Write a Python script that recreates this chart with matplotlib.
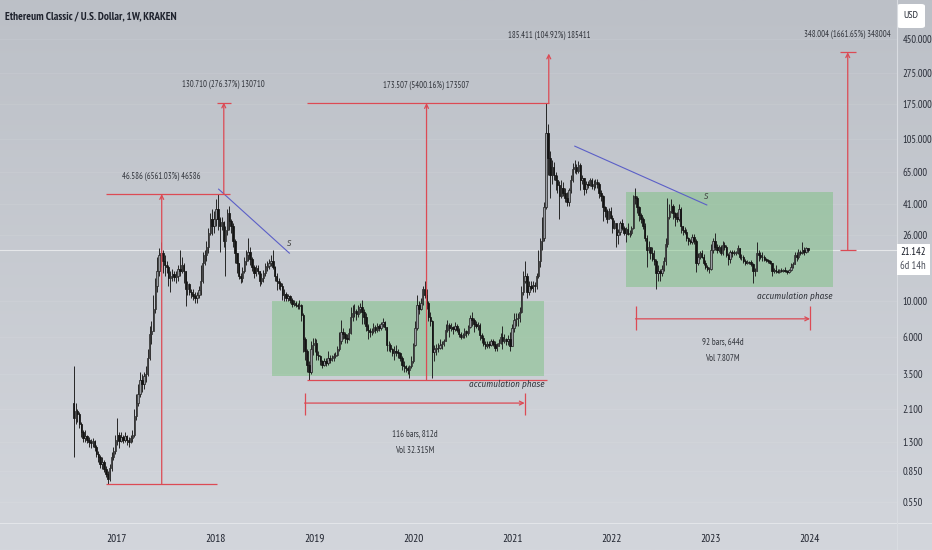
import numpy as np
import pandas as pd
import matplotlib
matplotlib.use('Agg')
import matplotlib.pyplot as plt
import matplotlib.dates as mdates
from matplotlib.colors import LinearSegmentedColormap
from matplotlib.patches import Rectangle, FancyBboxPatch
from matplotlib.lines import Line2D

plt.rcParams['font.family'] = ['PT Sans Narrow', 'DejaVu Sans']

# weekly candles, first week 2016-07-25, one row per year
close = [
    1.85, 2.05, 1.95, 1.70, 1.50, 1.38, 1.42, 1.35, 1.30, 1.28, 1.32, 1.22, 1.10, 1.05, 0.95, 0.98, 0.88, 0.82, 0.76, 0.90, 1.05, 1.15, 1.35,
    1.45, 1.32, 1.40, 1.35, 1.42, 1.35, 1.30, 1.38, 1.45, 1.90, 2.30, 2.60, 3.20, 3.00, 3.40, 3.50, 4.40, 6.20, 6.50, 9.00, 12.5, 15.5,
    19.5, 20.0, 18.0, 17.0, 16.5, 14.0, 14.5, 14.8, 14.2, 14.5, 16.0, 15.5, 17.0, 15.5, 12.0, 12.8, 11.5, 11.2, 10.8, 10.5, 11.0, 11.8,
    13.5, 17.5, 19.5, 22.0, 27.0, 33.0, 30.0, 33.0,
    38.0, 33.0, 30.0, 31.5, 24.0, 28.0, 36.0, 32.0, 30.0, 24.0, 20.0, 17.5, 14.5, 14.0, 15.5, 18.0, 19.5, 20.5, 18.5, 16.5, 15.0, 16.2,
    15.5, 13.5, 14.0, 15.0, 16.5, 16.8, 17.5, 18.0, 16.5, 14.5, 13.5, 13.0, 12.5, 11.0, 11.2, 10.5, 10.8, 10.2, 9.6, 9.8, 9.5, 9.3,
    9.5, 8.2, 5.8, 4.9, 4.0, 3.6, 5.0, 5.3, 5.5,
    4.6, 4.5, 4.2, 4.0, 4.2, 4.1, 4.4, 4.3, 4.4, 4.5, 4.6, 5.0, 5.6, 6.4, 6.2, 5.9, 5.8, 6.3, 8.0, 8.5, 8.7, 8.3, 8.9, 9.2, 8.6,
    8.0, 7.0, 6.6, 6.4, 6.5, 6.9, 6.6, 7.0, 6.8, 7.2, 7.4, 6.9, 5.3, 5.3, 5.0, 4.7, 4.9, 4.8, 4.7, 4.4, 4.0, 3.9, 3.8, 3.7, 3.9, 4.2, 5.3,
    6.8, 9.5, 9.0, 9.8, 12.0, 11.0, 9.8, 8.0, 7.5, 4.8, 5.0, 5.1, 5.1, 5.3, 5.4, 5.6, 6.6, 7.1, 6.8, 6.9, 6.7, 7.0, 6.6, 6.2, 6.0, 6.1,
    6.5, 6.3, 6.9, 7.8, 7.6, 7.2, 7.0, 7.1, 6.1, 5.9, 5.4, 5.2, 5.4, 5.3, 5.6, 5.4, 5.1, 5.2, 5.5, 6.0, 5.6, 5.8, 5.6, 5.8, 5.2, 6.8,
    7.6, 7.7, 7.8, 8.6, 11.5, 13.5, 14.5, 11.5, 12.5, 12.2, 12.6, 12.4, 14.5, 18.0, 24.0, 25.0, 39.0, 115.0, 80.0, 62.0, 70.0, 62.0,
    58.0, 54.0, 46.0, 52.0, 48.0, 45.0, 42.0, 50.0, 58.0, 68.0, 70.0, 66.0, 72.0, 58.0, 60.0, 51.0, 55.0, 54.0, 58.0, 53.0, 55.0,
    56.0, 55.0, 48.0, 46.0, 39.0, 37.0, 33.0, 37.0, 33.5,
    29.0, 31.0, 26.0, 27.5, 31.0, 29.0, 27.0, 28.5, 26.5, 27.0, 29.0, 46.0, 45.0, 39.0, 35.0, 33.0, 30.0, 25.0, 21.0, 22.0, 20.0, 18.5,
    18.0, 15.0, 15.5, 15.0, 16.0, 18.0, 23.0, 34.0, 37.0, 40.0, 36.0, 34.0, 33.0, 38.0, 30.0, 28.0, 27.5, 25.0, 24.0, 23.5, 25.5, 24.0,
    17.5, 19.0, 20.2, 19.0, 17.5, 16.5, 16.0, 16.0,
    21.0, 24.0, 22.0, 21.0, 22.0, 20.0, 22.5, 22.0, 19.5, 18.5, 20.5, 20.0, 20.2, 20.3, 21.5, 19.0, 19.0, 18.0, 17.5, 17.8, 17.7, 17.2,
    15.5, 15.5, 20.0, 19.5, 19.0, 19.0, 18.5, 18.2, 18.0, 17.5, 15.5, 15.8, 15.5, 15.3, 15.8, 15.6, 15.8, 15.5, 15.2, 15.8, 16.5, 17.3,
    19.5, 19.0, 20.5, 20.2, 21.0, 20.3, 21.5, 21.142,
]
high = [
    3.90, 2.30, 2.10, 2.00, 1.75, 1.55, 1.55, 1.45, 1.40, 1.36, 1.38, 1.35, 1.25, 1.15, 1.08, 1.05, 1.00, 0.92, 0.86, 0.95, 1.12, 1.22, 1.45,
    1.85, 1.50, 1.50, 1.45, 1.50, 1.45, 1.40, 1.45, 1.55, 2.10, 2.60, 3.00, 3.60, 3.50, 3.60, 3.90, 5.00, 7.00, 7.50, 11.0, 14.0, 19.0,
    21.5, 23.5, 21.0, 19.5, 18.0, 17.0, 15.5, 16.0, 15.5, 15.5, 17.0, 21.0, 19.0, 17.5, 15.5, 13.5, 13.0, 12.0, 12.0, 11.5, 11.5, 12.5,
    17.0, 20.5, 21.0, 24.0, 29.0, 36.0, 38.0, 37.0,
    44.0, 47.3, 34.0, 34.0, 32.0, 30.0, 38.0, 40.0, 33.0, 31.0, 24.5, 20.0, 17.5, 15.0, 16.5, 19.0, 21.0, 25.0, 22.0, 19.0, 17.0, 17.0,
    17.0, 15.5, 15.0, 15.8, 17.5, 18.0, 18.5, 19.5, 21.0, 16.8, 15.0, 14.0, 13.5, 13.0, 12.0, 11.5, 11.2, 11.0, 10.5, 10.2, 10.0, 9.8,
    10.2, 9.6, 8.4, 6.0, 5.0, 4.2, 5.6, 5.9, 5.9,
    5.8, 4.9, 4.6, 4.3, 4.4, 4.4, 4.9, 4.6, 4.6, 4.7, 4.8, 5.2, 6.4, 7.6, 6.8, 6.4, 6.2, 6.8, 9.2, 9.5, 9.6, 8.9, 9.5, 9.8, 10.2,
    9.0, 8.4, 7.2, 6.8, 6.8, 7.3, 7.1, 7.3, 7.2, 7.4, 7.8, 7.5, 6.9, 5.6, 5.5, 5.1, 5.2, 5.3, 5.0, 4.8, 4.5, 4.2, 4.0, 3.9, 4.0, 4.5, 5.5,
    7.5, 11.0, 10.0, 10.5, 12.5, 13.4, 12.0, 10.0, 8.6, 7.6, 5.3, 5.4, 5.5, 5.8, 5.6, 5.8, 7.2, 7.6, 7.3, 7.3, 7.0, 7.4, 7.2, 6.8, 6.4, 6.3,
    6.8, 6.6, 7.1, 8.2, 8.6, 7.8, 7.5, 7.4, 7.3, 6.3, 6.1, 5.6, 5.6, 5.6, 5.8, 5.8, 5.6, 5.5, 5.8, 6.3, 7.0, 6.2, 5.9, 6.1, 6.4, 7.2,
    8.4, 8.4, 8.4, 9.2, 12.5, 15.5, 18.0, 15.0, 13.5, 13.5, 13.5, 13.2, 15.0, 21.0, 25.0, 34.0, 42.0, 176.7, 130.0, 88.0, 78.0, 75.0,
    65.0, 62.0, 57.0, 58.0, 56.0, 52.0, 49.0, 52.0, 62.0, 74.0, 77.0, 73.0, 76.0, 74.0, 62.0, 60.0, 57.0, 57.0, 60.0, 60.0, 58.0,
    59.0, 59.0, 56.0, 50.0, 47.0, 40.0, 38.0, 38.5, 39.0,
    35.0, 32.5, 31.0, 28.5, 32.0, 33.0, 30.0, 29.5, 31.0, 28.0, 30.0, 47.0, 52.0, 46.0, 40.0, 36.0, 34.0, 31.0, 26.0, 24.0, 22.0, 22.0,
    21.0, 18.5, 17.0, 16.0, 17.0, 19.0, 25.0, 45.0, 41.0, 44.0, 41.0, 36.5, 36.5, 41.0, 39.0, 30.0, 29.5, 28.5, 25.5, 24.5, 26.5, 26.5,
    24.5, 20.0, 20.8, 21.0, 19.8, 18.2, 17.0, 16.5,
    23.0, 25.0, 27.0, 23.0, 22.5, 22.5, 24.0, 23.5, 22.5, 20.0, 21.0, 21.0, 21.0, 20.8, 22.5, 21.5, 19.8, 19.5, 18.5, 18.2, 18.0, 18.3,
    17.5, 16.3, 23.5, 21.0, 20.5, 20.5, 19.5, 18.8, 18.6, 18.3, 17.5, 16.3, 17.0, 15.9, 16.0, 16.2, 16.0, 16.5, 15.7, 16.0, 17.5, 17.8,
    20.5, 20.5, 21.2, 21.0, 23.5, 22.0, 22.0, 21.5,
]
low = [
    1.05, 1.70, 1.75, 1.60, 1.40, 1.30, 1.30, 1.28, 1.22, 1.20, 1.22, 1.15, 1.05, 0.98, 0.90, 0.88, 0.84, 0.78, 0.71, 0.74, 0.85, 1.00, 1.10,
    1.25, 1.20, 1.30, 1.28, 1.30, 1.25, 1.22, 1.28, 1.30, 1.40, 1.80, 2.20, 2.50, 2.70, 2.80, 3.10, 3.40, 4.30, 5.40, 6.50, 8.50, 11.5,
    14.5, 16.5, 15.0, 14.5, 15.0, 12.5, 11.5, 13.5, 13.5, 13.0, 13.5, 14.5, 15.0, 13.0, 9.30, 11.0, 11.0, 10.5, 10.2, 9.80, 9.80, 10.5,
    11.0, 13.0, 17.0, 18.0, 20.0, 26.0, 26.0, 27.0,
    30.0, 28.0, 20.5, 28.0, 22.0, 14.5, 26.0, 28.0, 27.0, 22.0, 17.5, 15.0, 13.8, 13.0, 13.2, 15.0, 17.0, 18.0, 17.0, 15.5, 14.0, 14.5,
    14.8, 12.5, 12.8, 13.2, 14.5, 15.5, 16.0, 16.8, 16.0, 13.5, 11.8, 12.0, 11.8, 10.2, 10.0, 10.0, 10.0, 9.8, 9.2, 9.3, 9.2, 9.0,
    9.0, 7.5, 4.8, 4.3, 3.6, 3.213, 3.5, 4.6, 4.8,
    4.3, 4.3, 4.0, 3.8, 3.9, 3.9, 4.0, 4.1, 4.2, 4.2, 4.4, 4.5, 4.9, 5.4, 5.8, 5.5, 5.5, 5.7, 6.2, 7.5, 8.0, 7.6, 8.0, 8.4, 7.2,
    7.2, 6.5, 5.8, 6.0, 6.1, 6.3, 6.3, 6.4, 6.5, 6.6, 6.9, 6.6, 4.9, 4.9, 4.8, 4.5, 4.3, 4.5, 4.4, 4.2, 3.7, 3.6, 3.6, 3.5, 3.3, 3.8, 4.1,
    5.2, 6.6, 8.3, 8.8, 9.5, 10.5, 9.0, 7.5, 7.0, 3.3, 4.2, 4.6, 4.8, 5.0, 5.0, 5.2, 5.6, 6.4, 6.0, 6.5, 6.2, 6.5, 6.4, 6.0, 5.8, 5.9,
    5.9, 6.0, 6.1, 6.8, 7.0, 6.4, 6.8, 6.6, 5.7, 5.5, 5.2, 5.0, 5.1, 5.1, 5.2, 5.2, 4.9, 4.9, 5.2, 5.4, 5.0, 5.5, 5.3, 5.3, 4.9, 5.3,
    6.4, 7.0, 7.0, 7.4, 8.5, 11.0, 13.0, 10.5, 11.0, 11.8, 11.5, 11.4, 12.0, 14.0, 16.5, 21.0, 24.0, 38.0, 62.0, 45.0, 55.0, 58.0,
    50.0, 48.0, 33.0, 45.0, 46.0, 42.0, 40.0, 40.0, 48.0, 56.0, 64.0, 63.0, 64.0, 50.0, 55.0, 47.0, 48.0, 52.0, 53.0, 51.0, 50.0,
    52.0, 52.0, 45.0, 43.0, 32.0, 34.0, 31.0, 33.0, 33.0,
    27.0, 28.5, 22.0, 23.0, 26.0, 28.0, 26.0, 23.5, 26.0, 25.5, 26.0, 28.5, 41.0, 36.0, 32.0, 31.0, 28.5, 24.0, 16.5, 20.0, 18.5, 18.0,
    17.0, 12.0, 13.5, 13.5, 14.5, 15.5, 17.0, 22.0, 33.0, 36.0, 33.0, 30.0, 31.5, 32.0, 27.0, 26.0, 26.5, 24.0, 22.5, 23.0, 23.0, 23.0,
    15.2, 17.0, 18.5, 18.8, 17.0, 16.0, 15.5, 15.0,
    15.8, 20.0, 21.0, 20.0, 20.5, 19.5, 19.5, 21.0, 19.0, 17.0, 17.5, 19.0, 19.5, 19.5, 19.8, 18.5, 18.3, 17.5, 17.0, 17.2, 17.2, 16.8,
    13.0, 14.5, 15.5, 18.0, 18.5, 18.0, 18.0, 17.8, 17.4, 17.2, 14.5, 15.0, 15.0, 15.0, 15.0, 15.2, 15.3, 15.3, 14.9, 15.0, 15.6, 16.3,
    17.2, 18.0, 18.5, 19.5, 19.8, 19.5, 20.0, 20.5,
]
first_open = 2.3
first_week = '2016-07-25'
last_price = 21.142

price_ticks = [450, 275, 175, 105, 65, 41, 26, 10, 6, 3.5, 2.1, 1.3, 0.85, 0.55]
years = [2017, 2018, 2019, 2020, 2021, 2022, 2023, 2024]

# accumulation boxes: start, end, low, high
box_start = ['2018-07-26', '2022-02-21']
box_end = ['2021-04-27', '2024-03-25']
box_low = [3.38, 12.3]
box_high = [10.0, 48.7]
box_text_price = [2.98, 10.8]

# price range measures
meas_x = ['2017-06-15', '2018-01-30', '2020-02-17', '2021-05-13', '2024-05-20']
meas_from = [0.710, 47.296, 3.213, 176.72, 20.94]
meas_to = [47.296, 178.0, 176.72, 362.1, 368.9]
meas_text = ['46.586 (6561.03%) 46586', '130.710 (276.37%) 130710', '173.507 (5400.16%) 173507',
             '185.411 (104.92%) 185411', '348.004 (1661.65%) 348004']
meas_text_price = [61.4, 233, 229, 473, 480]

# date range measures
rng_start = ['2018-11-24', '2022-03-29']
rng_days = [812, 644]
rng_price = [2.29, 7.76]
rng_cap = [(1.93, 2.66), (6.6, 9.3)]
rng_text = ['116 bars, 812d', '92 bars, 644d']
rng_vol = ['Vol 32.315M', 'Vol 7.807M']
rng_text_price = [(1.467, 1.144), (5.55, 4.40)]

# trend lines
trend_x = [('2018-01-11', '2018-09-29'), ('2021-08-17', '2022-12-17')]
trend_p = [(50.8, 20.1), (94.7, 40.4)]
trend_label = [('2018-09-26', 23.3), ('2022-12-10', 46.0)]

RED = '#dc4a54'
BLUE = '#5b5fc7'
TXT = '#33363d'

def d(s):
    return mdates.date2num(pd.Timestamp(s))

W, H = 932, 550
fig = plt.figure(figsize=(W / 100, H / 100), dpi=100)

bg = fig.add_axes([0, 0, 1, 1], zorder=-5)
cmap = LinearSegmentedColormap.from_list('bg', ['#bcc0c7', '#d3d6dc'])
bg.imshow(np.linspace(0, 1, 256).reshape(-1, 1), aspect='auto', cmap=cmap, extent=[0, 1, 0, 1])
bg.axis('off')

ax = fig.add_axes([0, 1 - 523 / H, 897 / W, 523 / H])
ax.patch.set_alpha(0)
ax.set_yscale('log')
ax.set_ylim(0.403, 787)
d2017 = d('2017-01-01')
dpp = 365.25 / 99
ax.set_xlim(d2017 - 117 * dpp, d2017 + 780 * dpp)
for s in ax.spines.values():
    s.set_visible(False)

# candles
c = np.array(close)
o = np.concatenate([[first_open], c[:-1]])
h = np.maximum(np.array(high), np.maximum(o, c))
l = np.minimum(np.array(low), np.minimum(o, c))
x = mdates.date2num(pd.date_range(first_week, periods=len(c), freq='7D'))
up = c >= o
ax.vlines(x, l, h, color='#262626', lw=0.7, zorder=3)
ax.bar(x[up], (c - o)[up], bottom=o[up], width=5.2, color='#9a9da3', edgecolor='#2a2a2a', lw=0.55, zorder=4)
ax.bar(x[~up], (o - c)[~up], bottom=c[~up], width=5.2, color='#141414', edgecolor='#141414', lw=0.55, zorder=4)

# grid and last price line
for p in price_ticks:
    ax.axhline(p, color='white', alpha=0.08, lw=0.7, zorder=0)
ax.axhline(last_price, color='white', alpha=0.55, lw=0.8, zorder=1)

# accumulation boxes
for s, e, lo, hi, tp in zip(box_start, box_end, box_low, box_high, box_text_price):
    ax.fill_between([d(s), d(e)], lo, hi, color='#6dbf73', alpha=0.42, lw=0, zorder=2)
    ax.text(d(e), tp, 'accumulation phase', ha='right', va='center', fontsize=6.6,
            style='italic', family=['Fira Sans Condensed', 'DejaVu Sans'], color=TXT, zorder=6)

# trend lines
for (xa, xb), (pa, pb), (lx, lp) in zip(trend_x, trend_p, trend_label):
    ax.plot([d(xa), d(xb)], [pa, pb], color=BLUE, lw=0.8, zorder=5)
    ax.text(d(lx), lp, 'S', fontsize=6.5, style='italic', family=['Fira Sans Condensed', 'DejaVu Sans'],
            color='#444', ha='center', va='center', zorder=6)

# price measures
cap = 30
ax.hlines(meas_to[0], d('2016-11-20'), d('2018-02-21'), color=RED, lw=0.9, zorder=5)
ax.hlines(meas_from[0], d('2016-11-20'), d('2018-01-04'), color=RED, lw=0.9, zorder=5)
ax.hlines(meas_to[2], d('2018-12-02'), d('2021-05-13'), color=RED, lw=0.9, zorder=5)
ax.hlines(meas_from[2], d('2018-12-02'), d('2021-05-06'), color=RED, lw=0.9, zorder=5)
ax.hlines(meas_to[1], d(meas_x[1]) - 26, d(meas_x[1]) + 28, color=RED, lw=0.9, zorder=5)
ax.hlines([meas_from[4], meas_to[4]], d(meas_x[4]) - cap, d(meas_x[4]) + cap, color=RED, lw=0.9, zorder=5)
for mx, pf, pt, txt, tp in zip(meas_x, meas_from, meas_to, meas_text, meas_text_price):
    ax.annotate('', xy=(d(mx), pt), xytext=(d(mx), pf),
                arrowprops=dict(arrowstyle='->', color=RED, lw=0.9, shrinkA=0, shrinkB=0, mutation_scale=7),
                zorder=5)
    ax.text(d(mx), tp, txt, fontsize=6.2, color=TXT, ha='center', va='center', zorder=6)

# date ranges
for s, nd, p, (c0, c1), txt, vol, (tp1, tp2) in zip(rng_start, rng_days, rng_price, rng_cap,
                                                   rng_text, rng_vol, rng_text_price):
    x0 = d(s)
    x1 = x0 + nd
    ax.vlines([x0, x1], c0, c1, color=RED, lw=0.9, zorder=5)
    ax.annotate('', xy=(x1, p), xytext=(x0, p),
                arrowprops=dict(arrowstyle='->', color=RED, lw=0.9, shrinkA=0, shrinkB=0, mutation_scale=7),
                zorder=5)
    xm = (x0 + x1) / 2
    ax.text(xm, tp1, txt, fontsize=6.4, color=TXT, ha='center', va='center', zorder=6)
    ax.text(xm, tp2, vol, fontsize=6.4, color=TXT, ha='center', va='center', zorder=6)

# axes ticks
ax.yaxis.tick_right()
ax.set_yticks(price_ticks)
ax.set_yticklabels([f'{p:.3f}' for p in price_ticks])
ax.yaxis.set_minor_locator(matplotlib.ticker.NullLocator())
ax.set_xticks([d(f'{y}-01-01') for y in years])
ax.set_xticklabels([str(y) for y in years])
ax.tick_params(axis='y', length=0, pad=4, labelsize=7.6, labelcolor='#2a2e39')
ax.tick_params(axis='x', length=0, pad=8, labelsize=8.2, labelcolor='#1e222d')

# separators
fig.add_artist(Line2D([0, 1], [1 - 523 / H] * 2, color='#e3e5e9', lw=0.8))
fig.add_artist(Line2D([897 / W] * 2, [0, 1], color='#d9dce1', lw=0.8))

# title and right labels
fig.text(5 / W, 1 - 16 / H, 'Ethereum Classic / U.S. Dollar, 1W, KRAKEN', fontsize=8.1, fontweight='bold',
         color='#1e222d', ha='left', va='center')
fig.add_artist(FancyBboxPatch((897 / W, 1 - 28 / H), 28 / W, 24 / H, boxstyle='round,pad=0,rounding_size=0.004',
                              transform=fig.transFigure, facecolor='white', edgecolor='none'))
fig.text(911 / W, 1 - 16 / H, 'USD', fontsize=7.4, color='#2a2e39', ha='center', va='center')
fig.add_artist(Rectangle((897 / W, 1 - 275 / H), 33 / W, 31 / H, transform=fig.transFigure,
                         facecolor='white', edgecolor='none', zorder=3))
fig.text(913 / W, 1 - 252 / H, f'{last_price:.3f}', fontsize=7.6, color='#131722', ha='center', va='center', zorder=4)
fig.text(913 / W, 1 - 266 / H, '6d 14h', fontsize=7.6, color='#4a4e59', ha='center', va='center', zorder=4)

fig.savefig('out.png', dpi=100)
